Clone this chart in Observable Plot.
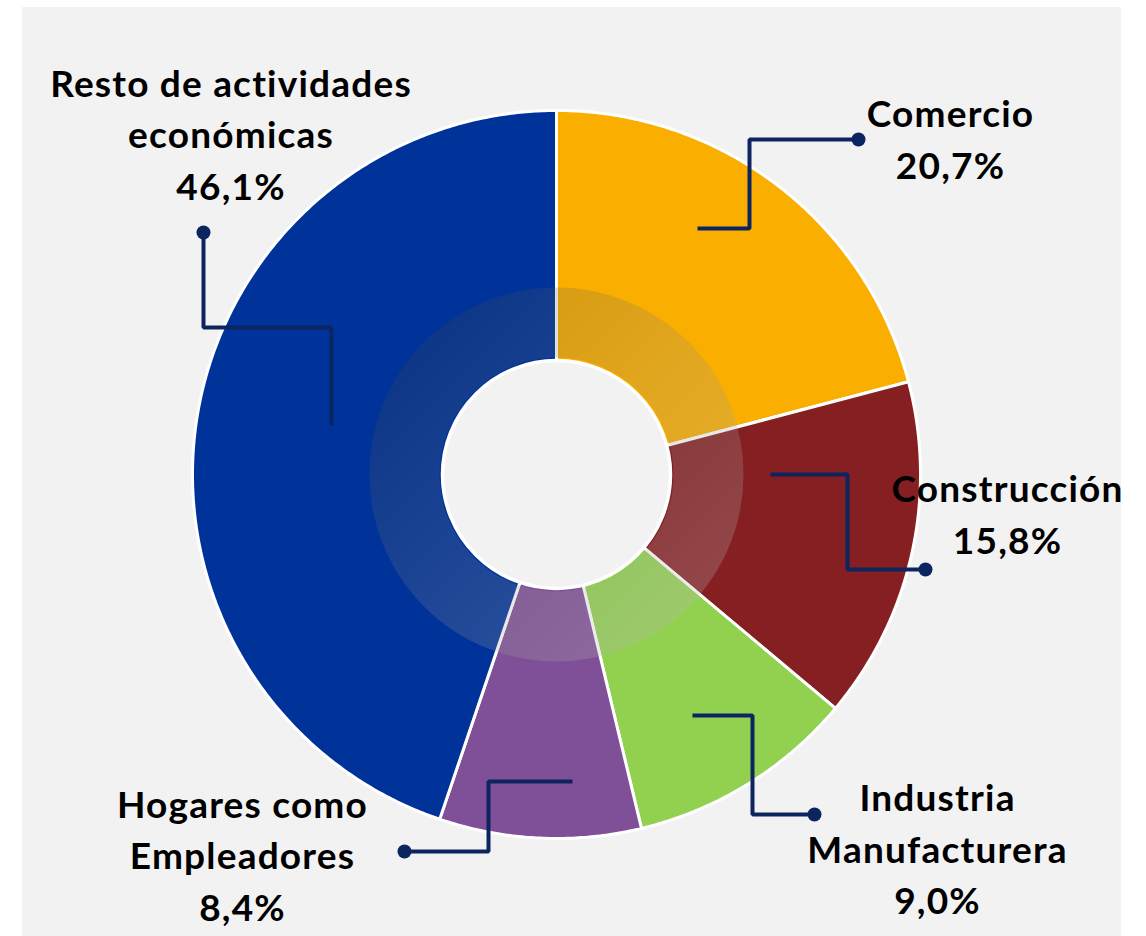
<!DOCTYPE html>
<html>
<head>
<meta charset="utf-8">
<script src="https://cdn.jsdelivr.net/npm/d3@7"></script>
<script src="https://cdn.jsdelivr.net/npm/@observablehq/plot@0.6"></script>
<style>
  html, body { margin: 0; padding: 0; background: #ffffff; }
  #wrap { position: relative; width: 1146px; height: 936px; overflow: hidden; }
  #panel { position: absolute; left: 22px; top: 7px; width: 1099px; height: 929px; background: #f2f2f2; }
  #chart { position: absolute; left: 0; top: 0; }
</style>
</head>
<body>
<div id="wrap"><div id="panel"></div><div id="chart"></div></div>
<script>
// ---- data ----
const categories = ["Comercio", "Construcción", "Industria Manufacturera", "Hogares como Empleadores", "Resto de actividades económicas"];
// percentages printed on the labels
const shares = [20.7, 15.8, 9.0, 8.4, 46.1];
// slice sizes as drawn in the picture (read from the slice boundaries)
const sliceShares = [20.9, 15.2, 10.15, 8.95, 44.8];
const labelLines = ["Comercio", "Construcción", "Industria\nManufacturera", "Hogares como\nEmpleadores", "Resto de actividades\neconómicas"];

// ---- styles / layout ----
const palette = ["#f9ae00", "#861f21", "#92d050", "#7f4f97", "#003399"];
const center = [556, 474];
const R = 364, ringOuter = 187, ringInner = 117, holeR = 114;
const leaderColor = "#0c2561";
const fontSize = 37, lineStep = 51.5;
const labelPos = [[950, 136], [1007, 511], [937, 846], [242, 852.5], [230.5, 131.5]];
const leaderPaths = [
  [[697, 228], [749, 228], [749, 139], [858, 139]],
  [[770, 474], [847, 474], [847, 569], [925, 569]],
  [[692, 715], [752, 715], [752, 814], [814, 814]],
  [[572, 781], [488, 781], [488, 851], [404, 851]],
  [[331, 425], [331, 327], [203, 327], [203, 232]]
];

// ---- build slice polygons from the values ----
const arcs = d3.pie().sort(null).value(d => d)(sliceShares);
const slicePts = [];
arcs.forEach((a, i) => {
  const name = categories[i];
  slicePts.push({name, x: center[0], y: center[1]});
  const n = Math.max(8, Math.ceil((a.endAngle - a.startAngle) * 120));
  for (let k = 0; k <= n; k++) {
    const t = a.startAngle + (a.endAngle - a.startAngle) * k / n;
    slicePts.push({name, x: center[0] + R * Math.sin(t), y: center[1] - R * Math.cos(t)});
  }
  slicePts.push({name, x: center[0], y: center[1]});
});

const labels = categories.map((c, i) => ({
  name: c,
  text: labelLines[i] + "\n" + shares[i].toFixed(1).replace(".", ",") + "%",
  x: labelPos[i][0], y: labelPos[i][1]
}));
const leaderPts = leaderPaths.flatMap((p, i) => p.map(([x, y]) => ({name: categories[i], x, y})));
const leaderEnds = leaderPaths.map((p, i) => ({name: categories[i], x: p[p.length - 1][0], y: p[p.length - 1][1]}));
const centerPt = [{x: center[0], y: center[1]}];

const defs = () => {
  const g = d3.create("svg:defs");
  const lg = g.append("linearGradient").attr("id", "ringGrad")
    .attr("x1", 0).attr("y1", 0).attr("x2", 1).attr("y2", 1);
  lg.append("stop").attr("offset", "0%").attr("stop-color", "#3c3c3c").attr("stop-opacity", 0.2);
  lg.append("stop").attr("offset", "50%").attr("stop-color", "#8a8a8a").attr("stop-opacity", 0.22);
  lg.append("stop").attr("offset", "100%").attr("stop-color", "#c0c0c0").attr("stop-opacity", 0.26);
  return g.node();
};

const chart = Plot.plot({
  width: 1146,
  height: 936,
  margin: 0,
  x: {domain: [0, 1146], range: [0, 1146], axis: null},
  y: {domain: [0, 936], range: [0, 936], axis: null},
  color: {domain: categories, range: palette},
  style: {background: "transparent", fontFamily: "Lato, 'Open Sans', sans-serif", letterSpacing: "1.2px"},
  marks: [
    defs,
    Plot.line(slicePts, {x: "x", y: "y", z: "name", fill: "name", stroke: "white", strokeWidth: 3, strokeLinejoin: "round"}),
    Plot.dot(centerPt, {x: "x", y: "y", r: (ringOuter + ringInner) / 2, fill: "none", stroke: "url(#ringGrad)", strokeWidth: ringOuter - ringInner}),
    Plot.dot(centerPt, {x: "x", y: "y", r: holeR, fill: "#f2f2f2", stroke: "white", strokeWidth: 3.5}),
    Plot.line(leaderPts, {x: "x", y: "y", z: "name", stroke: leaderColor, strokeWidth: 4, strokeLinejoin: "miter", strokeLinecap: "butt"}),
    Plot.dot(leaderEnds, {x: "x", y: "y", r: 7, fill: leaderColor, stroke: "none"}),
    Plot.text(labels, {x: "x", y: "y", text: "text", fontSize, fontWeight: "bold", lineHeight: lineStep / fontSize, fill: "#000000", textAnchor: "middle", lineAnchor: "middle"})
  ]
});
document.getElementById("chart").appendChild(chart);
</script>
</body>
</html>
